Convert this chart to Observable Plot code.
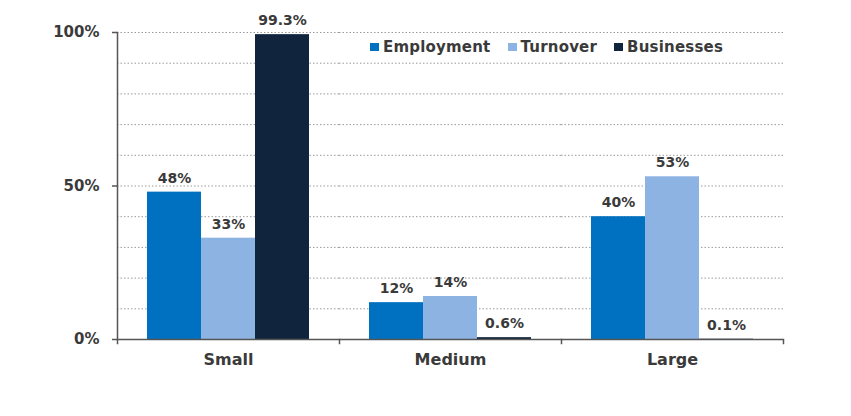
<!DOCTYPE html>
<html>
<head>
<meta charset="utf-8">
<script src="https://cdn.jsdelivr.net/npm/d3@7"></script>
<script src="https://cdn.jsdelivr.net/npm/@observablehq/plot@0.6"></script>
<style>
  html, body { margin: 0; padding: 0; background: #fff; }
  #wrap { position: relative; width: 851px; height: 416px; font-family: "DejaVu Sans", sans-serif; }
  #legend { position: absolute; left: 370px; top: 38px; display: flex; align-items: center; font-size: 15px; font-weight: bold; color: #3a3a3a; white-space: nowrap; letter-spacing: 0.2px; }
  #legend .item { display: flex; align-items: center; margin-right: 17px; }
  #legend .sw { width: 9px; height: 8px; margin-right: 4px; }
</style>
</head>
<body>
<div id="wrap"><div id="legend"></div></div>
<script>
const categories = ["Small", "Medium", "Large"];
const series = ["Employment", "Turnover", "Businesses"];
const employment = [48, 12, 40];
const turnover = [33, 14, 53];
const businesses = [99.3, 0.6, 0.1];
const yTicks = [0, 50, 100];
const gridTicks = [10, 20, 30, 40, 50, 60, 70, 80, 90, 100];
const colors = ["#0070c0", "#8db3e2", "#10243e"];

const seriesValues = [employment, turnover, businesses];
const data = categories.flatMap((c, i) =>
  series.map((s, j) => ({category: c, series: s, value: seriesValues[j][i]}))
);

const textColor = "#3a3a3a";
const axisColor = "#555";

const chart = Plot.plot({
  width: 851,
  height: 416,
  marginLeft: 117,
  marginRight: 68,
  marginTop: 32,
  marginBottom: 77,
  style: {fontFamily: "DejaVu Sans", fontWeight: "bold", background: "#fff"},
  fx: {domain: categories, padding: 0, axis: null},
  x: {domain: series, paddingInner: 0, paddingOuter: 0.52, axis: null},
  y: {domain: [0, 100], axis: null},
  color: {domain: series, range: colors},
  marks: [
    Plot.gridY(gridTicks, {stroke: "#9a9a9a", strokeOpacity: 1, strokeDasharray: "1.5,2"}),
    Plot.barY(data, {fx: "category", x: "series", y: "value", fill: "series"}),
    Plot.text(data, {
      fx: "category", x: "series", y: "value",
      text: d => d.value + "%",
      dy: -14, lineAnchor: "middle", fontSize: 14, fill: textColor,
      style: "letter-spacing:0.5px"
    }),
    Plot.ruleY([0], {stroke: axisColor, strokeWidth: 1.5}),
    Plot.frame({anchor: "left", fx: () => "Small", stroke: axisColor, strokeWidth: 1.5, insetBottom: -4}),
    Plot.frame({anchor: "right", stroke: axisColor, strokeWidth: 1.5, insetTop: 307, insetBottom: -4}),
    Plot.axisY(yTicks, {
      label: null,
      tickFormat: d => d + "%", tickSize: 5, tickPadding: 13,
      fontSize: 15, fill: textColor, stroke: axisColor, strokeWidth: 1.5
    }),
    Plot.axisFx({anchor: "bottom", label: null, tickSize: 0, tickPadding: 14, fontSize: 16, fill: textColor})
  ]
});

document.getElementById("wrap").prepend(chart);

const legend = document.getElementById("legend");
series.forEach((s, i) => {
  const item = document.createElement("div");
  item.className = "item";
  const sw = document.createElement("span");
  sw.className = "sw";
  sw.style.background = colors[i];
  const label = document.createElement("span");
  label.textContent = s;
  item.append(sw, label);
  legend.append(item);
});
</script>
</body>
</html>
